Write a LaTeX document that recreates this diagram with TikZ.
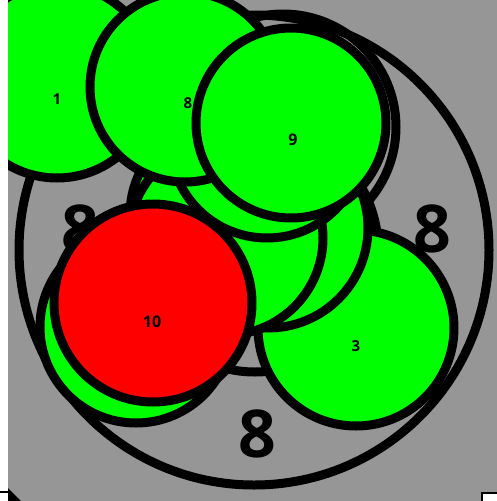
\documentclass[tikz,border=0pt]{standalone}
\usepackage{fontspec}
\setmainfont{Open Sans}
\definecolor{bggray}{RGB}{150,150,150}
\definecolor{ggreen}{RGB}{0,255,0}
\definecolor{rred}{RGB}{255,0,0}
\tikzset{
  ball/.style={circle, draw=black, line width=9pt, fill=ggreen, inner sep=0pt, minimum size=#1},
  ball/.default=194pt,
  ring/.style={circle, draw=black, line width=9pt, inner sep=0pt, minimum size=#1},
  lab/.style={font=\fontsize{15}{15}\selectfont\bfseries, text=black, inner sep=0pt},
  blab/.style={font=\fontsize{16}{16}\selectfont\bfseries, text=black, inner sep=0pt},
  biglab/.style={font=\fontsize{66}{66}\selectfont\bfseries, text=black, inner sep=0pt},
}
\begin{document}
\begin{tikzpicture}[x=1pt,y=-1pt]
\useasboundingbox (0,0) rectangle (497,501);
\fill[white] (0,0) rectangle (497,501);
\fill[bggray] (8,0) rectangle (497,501);
\draw[line width=2pt] (0,492) -- (8,492);
\fill[black] (8,488) -- (21,501) -- (8,501) -- cycle;
\begin{scope}
\clip (8,0) rectangle (497,501);
% outer ring and its labels
\node[ring=470pt] (big) at (254,250) {};
\node[biglab] (bl1) at (80,229) {8};
\node[biglab] (bl2) at (432,229) {8};
\node[biglab] (bl3) at (257,434) {8};
% inner unfilled rings
\node[ring=246pt] (inner) at (255,249) {};
\node[ring=226pt] (upper) at (283,127) {};
% circles
\node[ball] (c1) at (57,81) {};
\node[ball=192pt] (c2) at (136,327) {};
\node[ball=196pt] (c3) at (356,328) {};
\node[ball] (c4) at (227,215) {};
\node[ball=200pt] (c5) at (268,228) {};
\node[ball=194pt] (c6) at (226,238) {};
\node[ball] (c7) at (267,141) {};
\node[ball=190pt] (c8) at (185,87) {};
\node[ball=190pt] (c9) at (291,123) {};
\node[ball=198pt, fill=rred] (c10) at (153,303) {};
% labels
\node[lab] (t1) at (57,99) {1};
\node[lab] (t8) at (188,103) {8};
\node[blab] (t9) at (293,140) {9};
\node[blab] (t10) at (152,322) {10};
\node[lab] (t3) at (356,346) {3};
\end{scope}
\draw[line width=2pt, fill=white] (482,493) rectangle (499,503);
\end{tikzpicture}
\end{document}
